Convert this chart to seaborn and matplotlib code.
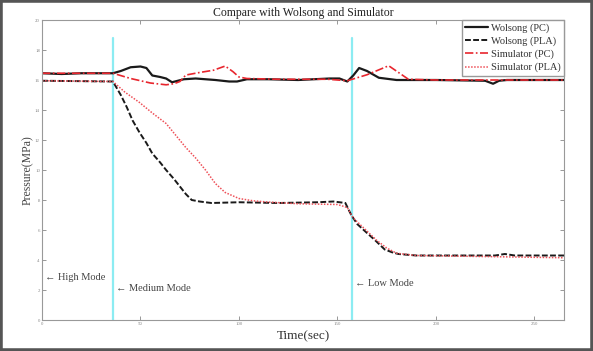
import pandas as pd
import matplotlib
matplotlib.use("Agg")
import matplotlib.pyplot as plt
import matplotlib.patches as patches
import seaborn as sns

# Series (time in sec, pressure in MPa)
wolsong_pc_t = [0, 10, 20, 30, 36, 40, 45, 50, 53, 56, 60, 63, 66, 72, 78, 88, 95, 99, 104,
                115, 130, 146, 151, 155, 158, 161, 165, 171, 180, 200, 225, 229, 232, 236, 250, 265]
wolsong_pc_p = [16.45, 16.4, 16.45, 16.45, 16.45, 16.6, 16.85, 16.9, 16.8, 16.3, 16.2, 16.1, 15.85,
                16.05, 16.1, 16.0, 15.9, 15.9, 16.05, 16.05, 16.0, 16.1, 16.1, 15.9, 16.3, 16.8,
                16.6, 16.15, 16.0, 16.0, 15.95, 15.75, 15.95, 16.0, 16.0, 16.0]

wolsong_pla_t = [0, 36, 40, 43, 46, 49.5, 53, 56, 60, 63, 67, 70, 73, 76, 80, 86, 100, 120, 140,
                 148, 154, 157, 160, 165, 169, 174, 178, 181, 190, 230, 235, 240, 265]
wolsong_pla_p = [15.95, 15.9, 15.0, 14.2, 13.3, 12.5, 11.8, 11.1, 10.5, 10.0, 9.4, 8.9, 8.4, 8.0,
                 7.9, 7.8, 7.85, 7.8, 7.85, 7.9, 7.8, 7.0, 6.4, 5.8, 5.33, 4.7, 4.5, 4.4, 4.3,
                 4.3, 4.4, 4.3, 4.3]

sim_pc_t = [0, 36, 45, 55, 63, 67, 70, 73, 80, 87, 93, 97, 100, 104, 120, 145, 150, 155, 165,
            176, 181, 186, 200, 265]
sim_pc_p = [16.45, 16.45, 16.1, 15.8, 15.68, 15.75, 15.9, 16.33, 16.5, 16.65, 16.93, 16.55, 16.2,
            16.1, 16.05, 16.05, 16.0, 15.95, 16.35, 16.95, 16.5, 16.05, 16.0, 16.0]

sim_pla_t = [0, 36, 42, 49.5, 56, 63, 68, 73, 78, 83, 88, 93, 100, 107, 114, 130, 150, 155, 158,
             162, 166, 170, 175, 180, 190, 265]
sim_pla_p = [15.95, 15.9, 15.2, 14.5, 13.8, 13.1, 12.3, 11.5, 10.8, 10.0, 9.1, 8.5, 8.1, 7.95,
             7.87, 7.75, 7.7, 7.5, 6.8, 6.3, 5.8, 5.3, 4.8, 4.45, 4.3, 4.15]

series_names = ["Wolsong (PC)", "Wolsong (PLA)", "Simulator (PC)", "Simulator (PLA)"]
mode_times = [36, 157.5]
mode_labels = ["\u2190 High Mode", "\u2190 Medium Mode", "\u2190 Low Mode"]
mode_label_t = [1.5, 37.5, 159]
mode_label_p = [2.8, 2.1, 2.45]
x_ticks = [0, 50, 100, 150, 200, 250]
y_ticks = list(range(0, 21, 2))

sns.set_style("ticks")
plt.rcParams["font.family"] = ["Liberation Serif", "DejaVu Serif"]

fig = plt.figure(figsize=(5.93, 3.51), dpi=100)
ax = fig.add_axes([42 / 593, 1 - 320 / 351, (564 - 42) / 593, 300 / 351])

styles = {
    "Wolsong (PC)": dict(color="#1a1a1a", linestyle="-", linewidth=1.6),
    "Wolsong (PLA)": dict(color="#1a1a1a", linestyle=(0, (3, 1.2)), linewidth=1.4),
    "Simulator (PC)": dict(color="#e8262e", linestyle=(0, (5, 1.5, 1, 1.5)), linewidth=1.2),
    "Simulator (PLA)": dict(color="#ee5058", linestyle=(0, (1, 1)), linewidth=1.1),
}
data = {
    "Wolsong (PC)": (wolsong_pc_t, wolsong_pc_p),
    "Wolsong (PLA)": (wolsong_pla_t, wolsong_pla_p),
    "Simulator (PC)": (sim_pc_t, sim_pc_p),
    "Simulator (PLA)": (sim_pla_t, sim_pla_p),
}

# mode change markers
for t in mode_times:
    ax.plot([t, t], [0, 18.8], color="#8cecf2", linewidth=1.6, zorder=1)

for name in series_names:
    t, p = data[name]
    df = pd.DataFrame({"t": t, "p": p})
    sns.lineplot(data=df, x="t", y="p", ax=ax, label=name, estimator=None, sort=False,
                 **styles[name])

for txt, t, p in zip(mode_labels, mode_label_t, mode_label_p):
    ax.text(t, p, txt, fontsize=7.5, color="#444444", va="center", ha="left")

ax.set_xlim(0, 265)
ax.set_ylim(0, 20)
ax.set_xticks(x_ticks)
ax.set_yticks(y_ticks)
ax.tick_params(direction="in", length=3, width=0.6, colors="#888888", labelsize=3.5,
               top=True, right=True, pad=1.5)
for s in ax.spines.values():
    s.set_color("#999999")
    s.set_linewidth(0.8)

ax.set_title("Compare with Wolsong and Simulator", fontsize=8.5, color="#222222", pad=3)
ax.set_xlabel("Time(sec)", fontsize=9.5, color="#333333", labelpad=3)
ax.set_ylabel("Pressure(MPa)", fontsize=8.5, color="#444444", labelpad=1)

leg = ax.legend(loc="upper right", borderaxespad=0, fontsize=7.5, handlelength=2.2,
                handletextpad=0.3, labelspacing=0.35, fancybox=False, framealpha=1,
                edgecolor="#999999", borderpad=0.3)
for txt in leg.get_texts():
    txt.set_color("#333333")

# picture frame around the whole figure
fig.patches.append(patches.Rectangle((0, 0), 1, 1, transform=fig.transFigure, fill=False,
                                     edgecolor="#555555", linewidth=4))

fig.savefig("out.png", dpi=100)
